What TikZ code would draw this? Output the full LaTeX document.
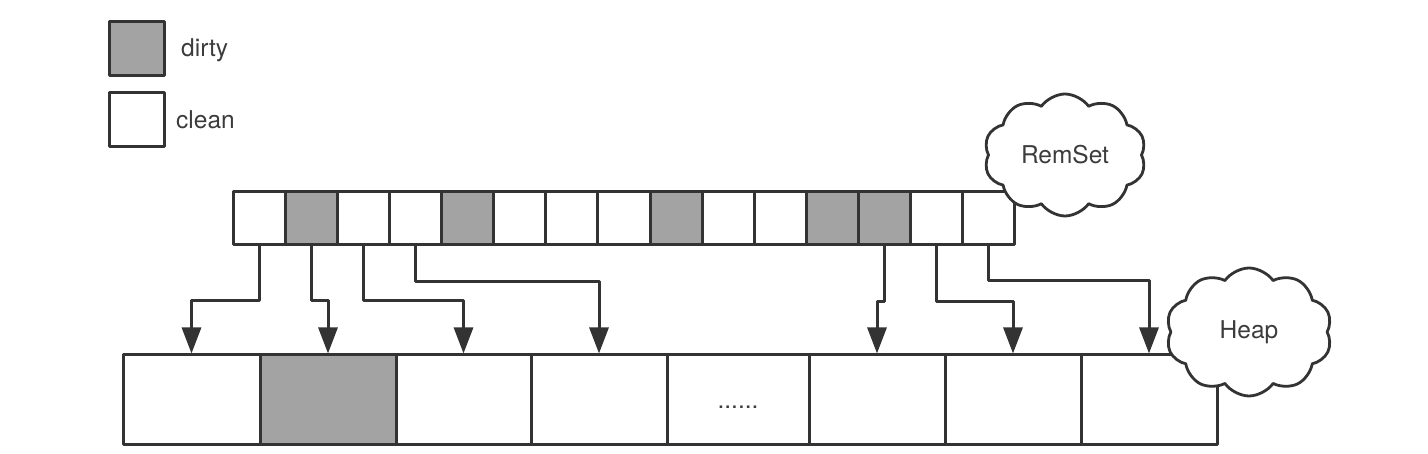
\documentclass[tikz,border=0pt]{standalone}
\usepackage{fontspec}
\setmainfont{TeX Gyre Heros}
\usetikzlibrary{shapes.symbols,arrows.meta}
\definecolor{ln}{HTML}{333333}
\definecolor{dirtyc}{HTML}{A3A3A3}
\definecolor{txt}{HTML}{3C3C3C}
\begin{document}
\begin{tikzpicture}[x=1pt,y=-1pt,
  line join=round,
  card/.style={draw=ln, line width=3pt, minimum width=52.13pt, minimum height=53pt, inner sep=0pt, fill=white},
  heapcell/.style={draw=ln, line width=3pt, minimum height=89pt, inner sep=0pt, fill=white},
  arr/.style={draw=ln, line width=3pt, -{Triangle[length=26pt,width=19pt]}},
  lbl/.style={font=\fontsize{24.5}{28}\selectfont, text=txt, inner sep=0pt},
  cloudy/.style={cloud, cloud puffs=10, cloud puff arc=110, aspect=1.3, draw=ln, fill=white, line width=2.8pt, inner sep=0pt, font=\fontsize{24.5}{28}\selectfont, text=txt}]
\useasboundingbox (0,0) rectangle (1428,454);
% legend
\node[card, fill=dirtyc, minimum width=55pt, minimum height=54pt] (ld) at (136.5,49) {};
\node[card, minimum width=55pt, minimum height=54pt] (lc) at (136.5,120) {};
\node[lbl, anchor=base west] (td) at (181,57) {dirty};
\node[lbl, anchor=base west] (tc) at (176,129) {clean};
% card table
\foreach \i/\f in {1/white,2/dirtyc,3/white,4/white,5/dirtyc,6/white,7/white,8/white,9/dirtyc,10/white,11/white,12/dirtyc,13/dirtyc,14/white,15/white}
  \node[card, fill=\f] (c\i) at ({233+52.13*(\i-0.5)},218.5) {};
% heap
\foreach \i/\a/\b/\f in {1/123/260/white,2/260/396/dirtyc,3/396/531/white,4/531/667/white,5/667/809/white,6/809/945/white,7/945/1081/white,8/1081/1217/white}
  \node[heapcell, fill=\f, minimum width={(\b-\a)*1pt}] (h\i) at ({(\a+\b)/2},399.5) {};
\node[lbl, anchor=base] (dots) at (h5.center) [yshift=-9pt] {......};
% arrows
\draw[arr] (c1.south) -- ++(0,54) -| (h1.north);
\draw[arr] (c2.south) -- ++(0,54) -| (h2.north);
\draw[arr] (c3.south) -- ++(0,54) -| (h3.north);
\draw[arr] (c4.south) -- ++(0,35) -| (h4.north);
\draw[arr] (c13.south) -- ++(0,55) -| (h6.north);
\draw[arr] (c14.south) -- ++(0,55) -| (h7.north);
\draw[arr] (c15.south) -- ++(0,34) -| (h8.north);
% clouds
\node[cloudy, minimum width=162pt, minimum height=122pt] (rem) at (1065,155) {RemSet};
\node[cloudy, minimum width=166pt, minimum height=128pt] (heap) at (1249,332) {Heap};
\end{tikzpicture}
\end{document}
